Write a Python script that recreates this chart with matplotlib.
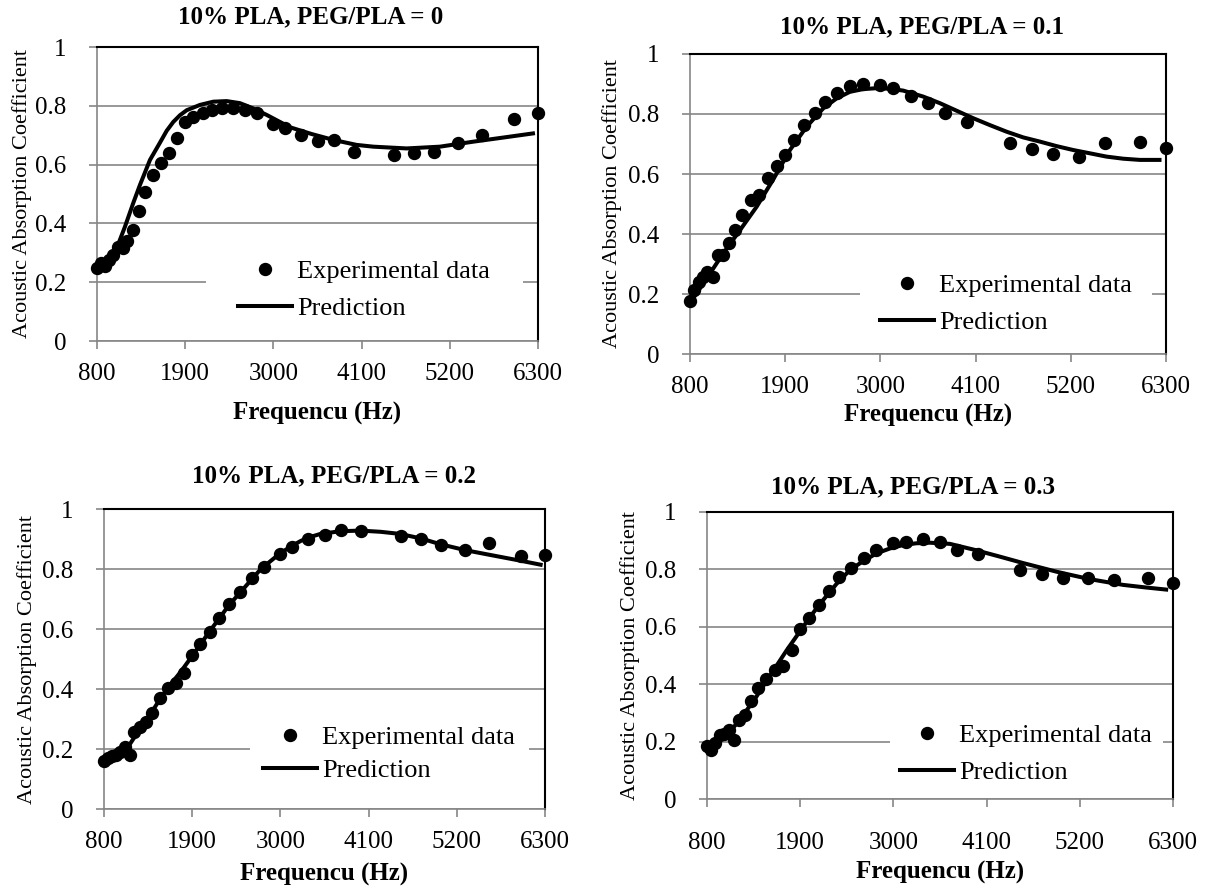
import matplotlib
matplotlib.use("Agg")
import matplotlib.pyplot as plt
from matplotlib.lines import Line2D
from matplotlib.patches import Rectangle

plt.rcParams['font.family'] = ['Liberation Serif', 'DejaVu Serif']

# 1/12-octave measurement frequencies (4250 Hz not measured)
freq = [800, 850, 900, 950, 1000, 1060, 1120, 1180, 1250, 1320, 1400, 1500,
        1600, 1700, 1800, 1900, 2000, 2120, 2240, 2360, 2500, 2650, 2800,
        3000, 3150, 3350, 3550, 3750, 4000, 4500, 4750, 5000, 5300, 5600,
        6000, 6300]

exp_0 = [0.247, 0.264, 0.255, 0.276, 0.293, 0.321, 0.315, 0.341, 0.378, 0.443,
         0.508, 0.565, 0.607, 0.641, 0.692, 0.746, 0.761, 0.774, 0.786, 0.791,
         0.791, 0.786, 0.774, 0.738, 0.723, 0.701, 0.681, 0.684, 0.644, 0.633,
         0.638, 0.644, 0.672, 0.701, 0.754, 0.776]
exp_01 = [0.176, 0.213, 0.241, 0.258, 0.274, 0.258, 0.330, 0.330, 0.369, 0.413,
          0.463, 0.513, 0.530, 0.586, 0.625, 0.663, 0.713, 0.763, 0.802, 0.841,
          0.871, 0.894, 0.900, 0.897, 0.886, 0.860, 0.838, 0.804, 0.774, 0.702,
          0.682, 0.666, 0.658, 0.704, 0.708, 0.686]
exp_02 = [0.161, 0.169, 0.177, 0.180, 0.191, 0.208, 0.180, 0.258, 0.272, 0.291,
          0.319, 0.369, 0.402, 0.419, 0.454, 0.513, 0.550, 0.591, 0.636, 0.683,
          0.724, 0.771, 0.808, 0.849, 0.874, 0.900, 0.913, 0.930, 0.928, 0.911,
          0.899, 0.880, 0.863, 0.888, 0.844, 0.847]
exp_03 = [0.184, 0.172, 0.195, 0.224, 0.228, 0.242, 0.207, 0.277, 0.294, 0.340,
          0.387, 0.418, 0.450, 0.464, 0.518, 0.592, 0.630, 0.677, 0.723, 0.773,
          0.806, 0.839, 0.868, 0.891, 0.897, 0.905, 0.897, 0.868, 0.854, 0.798,
          0.783, 0.769, 0.769, 0.763, 0.769, 0.754]

pred_f_0 = [800, 900, 1000, 1045, 1149, 1253, 1336, 1461, 1586, 1669, 1751,
            1835, 1919, 2084, 2250, 2417, 2583, 2749, 2916, 3207, 3477, 3747,
            4038, 4246, 4662, 5077, 5493, 5867, 6262]
pred_0 = [0.245, 0.262, 0.290, 0.315, 0.389, 0.470, 0.531, 0.616, 0.675, 0.715,
          0.745, 0.768, 0.785, 0.803, 0.814, 0.816, 0.809, 0.791, 0.769, 0.727,
          0.704, 0.684, 0.667, 0.661, 0.655, 0.661, 0.678, 0.692, 0.707]
pred_f_01 = [800, 993, 1185, 1378, 1570, 1762, 1955, 2148, 2340, 2494, 2648,
             2802, 2956, 3110, 3264, 3495, 3688, 3880, 4072, 4265, 4458, 4650,
             4843, 5035, 5227, 5420, 5612, 5805, 5998, 6248]
pred_01 = [0.170, 0.252, 0.336, 0.413, 0.491, 0.582, 0.680, 0.758, 0.819, 0.852,
           0.874, 0.883, 0.886, 0.884, 0.878, 0.858, 0.836, 0.811, 0.786, 0.763,
           0.741, 0.722, 0.708, 0.693, 0.680, 0.669, 0.658, 0.651, 0.647, 0.647]
pred_f_02 = [800, 1000, 1120, 1250, 1400, 1500, 1600, 1750, 1900, 2000, 2120,
             2250, 2360, 2500, 2650, 2750, 2880, 3000, 3150, 3250, 3350, 3500,
             3750, 4000, 4250, 4491, 4750, 4990, 5302, 5614, 5988, 6270]
pred_02 = [0.163, 0.190, 0.215, 0.268, 0.325, 0.367, 0.405, 0.455, 0.510, 0.548,
           0.593, 0.640, 0.680, 0.722, 0.768, 0.798, 0.827, 0.853, 0.878, 0.893,
           0.905, 0.917, 0.926, 0.928, 0.924, 0.917, 0.902, 0.883, 0.863, 0.847,
           0.828, 0.813]
pred_f_03 = [800, 900, 1000, 1100, 1189, 1290, 1386, 1500, 1600, 1740, 1897,
             2030, 2173, 2330, 2487, 2650, 2802, 2960, 3117, 3270, 3431, 3667,
             3960, 4250, 4532, 4730, 4925, 5120, 5318, 5515, 5712, 5980, 6243]
pred_03 = [0.184, 0.195, 0.215, 0.245, 0.277, 0.318, 0.358, 0.410, 0.455, 0.518,
           0.584, 0.640, 0.694, 0.750, 0.798, 0.830, 0.856, 0.873, 0.885, 0.891,
           0.893, 0.889, 0.868, 0.845, 0.822, 0.807, 0.792, 0.779, 0.766, 0.756,
           0.746, 0.737, 0.729]

titles = ["10% PLA, PEG/PLA = 0", "10% PLA, PEG/PLA = 0.1",
          "10% PLA, PEG/PLA = 0.2", "10% PLA, PEG/PLA = 0.3"]
xticks = [800, 1900, 3000, 4100, 5200, 6300]
yticks = [0, 0.2, 0.4, 0.6, 0.8, 1.0]
ytick_labels = ["0", "0.2", "0.4", "0.6", "0.8", "1"]
ylabel = "Acoustic Absorption Coefficient"
xlabel = "Frequencu (Hz)"
legend_labels = ["Experimental data", "Prediction"]

W, H = 1206, 888
fig = plt.figure(figsize=(W / 100, H / 100), dpi=100)
GRAY = "#868686"

# pixel layout
panels = [
    dict(box=(97, 538, 47, 341), title=(311, 17), ylab=22, xpad=12, tpad=10,
         leg=(238, 260), lsp=0.5, gap=(206, 523, 262, 302),
         exp=exp_0, pf=pred_f_0, p=pred_0),
    dict(box=(690, 1166, 54, 354), title=(922, 27), ylab=612, xpad=4, tpad=10,
         leg=(880, 274), lsp=0.5, gap=(860, 1152, 274, 314),
         exp=exp_01, pf=pred_f_01, p=pred_01),
    dict(box=(104, 545, 509, 809), title=(334, 476), ylab=27, xpad=7, tpad=10,
         leg=(263, 726), lsp=0.35, gap=(250, 529, 729, 769),
         exp=exp_02, pf=pred_f_02, p=pred_02),
    dict(box=(707, 1173, 512, 799), title=(913, 487), ylab=630, xpad=5, tpad=18,
         leg=(900, 724), lsp=0.5, gap=(890, 1163, 722, 762),
         exp=exp_03, pf=pred_f_03, p=pred_03),
]

for i, pn in enumerate(panels):
    L, R, T, B = pn["box"]
    ax = fig.add_axes([L / W, 1 - B / H, (R - L) / W, (B - T) / H])
    ax.set_xlim(800, 6300)
    ax.set_ylim(0, 1)
    ax.set_xticks(xticks)
    ax.set_xticklabels([str(v) for v in xticks])
    ax.set_yticks(yticks)
    ax.set_yticklabels(ytick_labels)
    ax.tick_params(axis='both', direction='out', length=6, width=1.2,
                   color=GRAY, labelsize=18)
    ax.tick_params(axis='x', pad=pn["tpad"])
    ax.tick_params(axis='y', pad=16)
    ax.yaxis.grid(True, color=GRAY, lw=1.2)
    ax.set_axisbelow(True)
    for s in ("left", "bottom"):
        ax.spines[s].set_color(GRAY)
        ax.spines[s].set_linewidth(1.2)
    for s in ("top", "right"):
        ax.spines[s].set_color("black")
        ax.spines[s].set_linewidth(1.5)

    # white legend background interrupting the gridline
    gx0, gx1, gy0, gy1 = pn["gap"]
    ax.add_patch(Rectangle((gx0 / W, 1 - gy1 / H), (gx1 - gx0) / W, (gy1 - gy0) / H,
                           transform=fig.transFigure, facecolor="white",
                           edgecolor="none", zorder=1))

    ax.plot(pn["pf"], pn["p"], color="black", lw=2.9, zorder=3,
            solid_capstyle="butt", solid_joinstyle="round")
    ax.plot(freq, pn["exp"], linestyle="none", marker="o", ms=8.6,
            color="black", zorder=4, clip_on=False)

    fig.text(pn["title"][0] / W, 1 - pn["title"][1] / H, titles[i],
             ha="center", va="center", fontsize=18, fontweight="bold")
    fig.text(pn["ylab"] / W, 1 - ((T + B) / 2) / H, ylabel, rotation=90,
             ha="center", va="center", fontsize=16)
    ax.set_xlabel(xlabel, fontsize=18, fontweight="bold", labelpad=pn["xpad"])

    handles = [Line2D([], [], linestyle="none", marker="o", ms=8.6, color="black"),
               Line2D([], [], color="black", lw=2.9)]
    lx, ly = pn["leg"]
    leg = ax.legend(handles, legend_labels, loc="upper left",
                    bbox_to_anchor=(lx / W, 1 - ly / H),
                    bbox_transform=fig.transFigure, fontsize=19, frameon=False,
                    handlelength=2.05, handletextpad=0.2,
                    labelspacing=pn["lsp"], borderpad=0, borderaxespad=0,
                    numpoints=1)

fig.savefig("out.png", dpi=100)
